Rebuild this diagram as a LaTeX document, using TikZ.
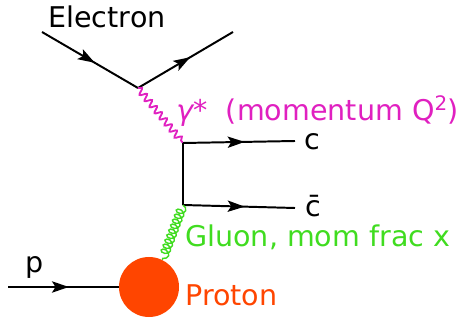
\documentclass[tikz,border=0pt]{standalone}
\usepackage{fontspec}
\setmainfont{DejaVu Sans}
\usepackage{tikz}
\usetikzlibrary{arrows.meta,decorations.pathmorphing,decorations.markings}
\definecolor{photonmagenta}{RGB}{224,32,192}
\definecolor{gluongreen}   {RGB}{64,220,32}
\definecolor{protonred}    {RGB}{255,69,0}

\begin{document}
\begin{tikzpicture}[
  x=0.025cm,y=-0.025cm,
  fermion/.style={line width=1.4pt,postaction={decorate},
                  decoration={markings,mark=at position 0.55 with
                  {\arrow{Stealth[length=12pt,width=8pt,inset=2.5pt]}}}},
  photon/.style={decorate,decoration={snake,amplitude=2.3pt,
                 segment length=5.6pt},photonmagenta,line width=1.3pt},
  gluon/.style={decorate,decoration={coil,aspect=0.7,amplitude=3.2pt,
                segment length=3.8pt},gluongreen,line width=1pt},
  proton/.style={circle,fill=protonred,minimum size=1.5cm,inner sep=0pt},
  lbl/.style={font=\fontsize{20.3}{24}\selectfont,inner sep=0pt,anchor=base},
]
\useasboundingbox (0,0) rectangle (460,320);

%% ── Vertices ─────────────────────────────────────────────────────────────────
\coordinate (ein)     at (42,32);
\coordinate (eout)    at (233,32);
\coordinate (evtx)    at (138,88);
\coordinate (qvtx)    at (183,143);
\coordinate (gvtx)    at (183,205);
\coordinate (cend)    at (295,141);
\coordinate (cbarend) at (295,208);
\coordinate (pin)     at (8,287);

%% ── Electron line ────────────────────────────────────────────────────────────
\node[lbl] (electronlbl) at (107,28) {Electron};
\draw[fermion] (ein) -- (evtx);
\draw[fermion] (evtx) -- (eout);

%% ── Virtual photon ───────────────────────────────────────────────────────────
\draw[photon] (evtx) -- (qvtx);
\node[lbl,anchor=base west,photonmagenta] (photonlbl) at (176,121)
  {\itshape γ\upshape*\hspace{0.65em}(momentum Q\textsuperscript{2})};

%% ── Charm pair ───────────────────────────────────────────────────────────────
\draw[fermion] (qvtx) -- (cend);
\node[lbl] (clbl) at (312,150) {c};
\draw[line width=1.4pt] (qvtx) -- (gvtx);
\draw[fermion] (gvtx) -- (cbarend);
\node[lbl] (cbarlbl) at (313,217) {\={c}};

%% ── Proton and gluon ─────────────────────────────────────────────────────────
\node[proton] (proton) at (149,287) {};
\draw[gluon] (gvtx) -- (proton.64);
\node[lbl,anchor=base west,gluongreen] (gluonlbl) at (185,247)
  {Gluon, mom frac x};
\draw[fermion] (pin) -- (proton.west);
\node[lbl] (plbl) at (35,273) {p};
\node[lbl,anchor=base west,protonred] (protonlbl) at (185,305) {Proton};

\end{tikzpicture}
\end{document}
